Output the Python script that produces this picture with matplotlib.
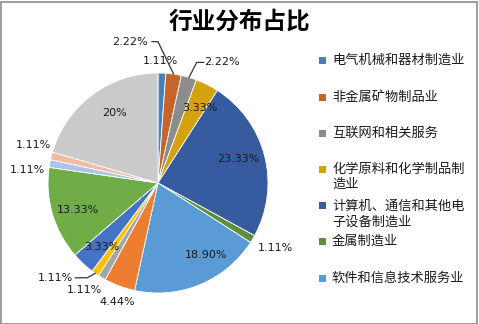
import numpy as np
import matplotlib
matplotlib.use("Agg")
import matplotlib.pyplot as plt
from matplotlib.patches import Rectangle

plt.rcParams['font.family'] = ['Noto Sans CJK SC', 'DejaVu Sans']

W, H = 479, 324

# 行业分布数据 (百分比)
values = [1.11, 2.22, 2.22, 3.33, 23.33, 1.11, 18.90, 4.44,
          1.11, 1.11, 3.33, 13.33, 1.11, 1.11, 20]
colors = ['#4A7EBB', '#C5652B', '#8C8C8C', '#D4A20C', '#375B9F',
          '#5B8F3B', '#5B9BD5', '#ED7D31', '#A5A5A5', '#FFC000',
          '#4472C4', '#70AD47', '#A9C5EB', '#F4B9A5', '#CACACA']
categories = ['电气机械和器材制造业', '非金属矿物制品业', '互联网和相关服务',
              '化学原料和化学制品制\n造业', '计算机、通信和其他电\n子设备制造业',
              '金属制造业', '软件和信息技术服务业']

# 标签位置: (半径, 顺时针角度偏移)
label_pos = [(1.11, -1), (1.31, -19.4), (1.24, 11.5), (0.78, 2.6), (0.76, -2.4),
             (1.22, -1.7), (0.79, -11.2), (1.14, -1.5), (1.18, 4), (1.27, 12.5),
             (0.77, -1.8), (0.77, -2.2), (1.19, -4.5), (1.18, 2.7), (0.75, 5.2)]
# 引导线: 扇区索引 -> (拐点偏移px, 终点偏移px)
leaders = {1: (28, 22), 2: (-25, -18), 9: (32, 20)}

fig = plt.figure(figsize=(W / 100, H / 100), dpi=100)
fig.patch.set_facecolor('white')
fig.patches.append(Rectangle((0.5 / W, 0.5 / H), 1 - 2.5 / W, 1 - 2 / H,
                             transform=fig.transFigure, fill=False,
                             edgecolor='#8C8C8C', linewidth=1.2))

# 饼图区域
cx, cy, R, L = 158, 183, 110, 1.5
ax = fig.add_axes([(cx - L * R) / W, (H - cy - L * R) / H,
                   2 * L * R / W, 2 * L * R / H])
wedges, _ = ax.pie(values, colors=colors, startangle=90, counterclock=False,
                   radius=1, wedgeprops=dict(edgecolor='white', linewidth=0.6))
ax.set_xlim(-L, L)
ax.set_ylim(-L, L)
ax.set_aspect('equal')
ax.axis('off')


def fmt(v):
    return f"{v:.0f}%" if float(v).is_integer() else f"{v:.2f}%"


for i, (w, v) in enumerate(zip(wedges, values)):
    mid = (w.theta1 + w.theta2) / 2
    r, shift = label_pos[i]
    a = np.deg2rad(mid - shift)
    tx, ty = r * np.cos(a), r * np.sin(a)
    ax.text(tx, ty, fmt(v), ha='center', va='center', fontsize=8,
            family='DejaVu Sans', color='#1A1A1A')
    if i in leaders:
        elbow, end = leaders[i]
        m = np.deg2rad(mid)
        ex, ey = np.cos(m), np.sin(m)
        ax.plot([ex, tx + elbow / R, tx + end / R], [ey, ty, ty],
                color='#333333', linewidth=0.9, clip_on=False)

fig.text(0.5, 1 - 22 / H, '行业分布占比', ha='center', va='center',
         fontsize=17, fontweight='bold', color='black')

# 图例
legend_y = [60.7, 97.7, 133, 177, 214, 241.7, 278]
first_line_y = [60.7, 97.7, 133, 169.5, 205.7, 241.7, 278]
for name, col, y, y1 in zip(categories, colors, legend_y, first_line_y):
    fig.patches.append(Rectangle(((322 - 3.5) / W, 1 - (y1 + 3.5) / H), 7 / W, 7 / H,
                                 transform=fig.transFigure, facecolor=col,
                                 edgecolor='none'))
    fig.text(332 / W, 1 - y / H, name, ha='left', va='center', fontsize=9.5,
             linespacing=1.25, color='#1A1A1A')

fig.savefig('out.png', dpi=100)
